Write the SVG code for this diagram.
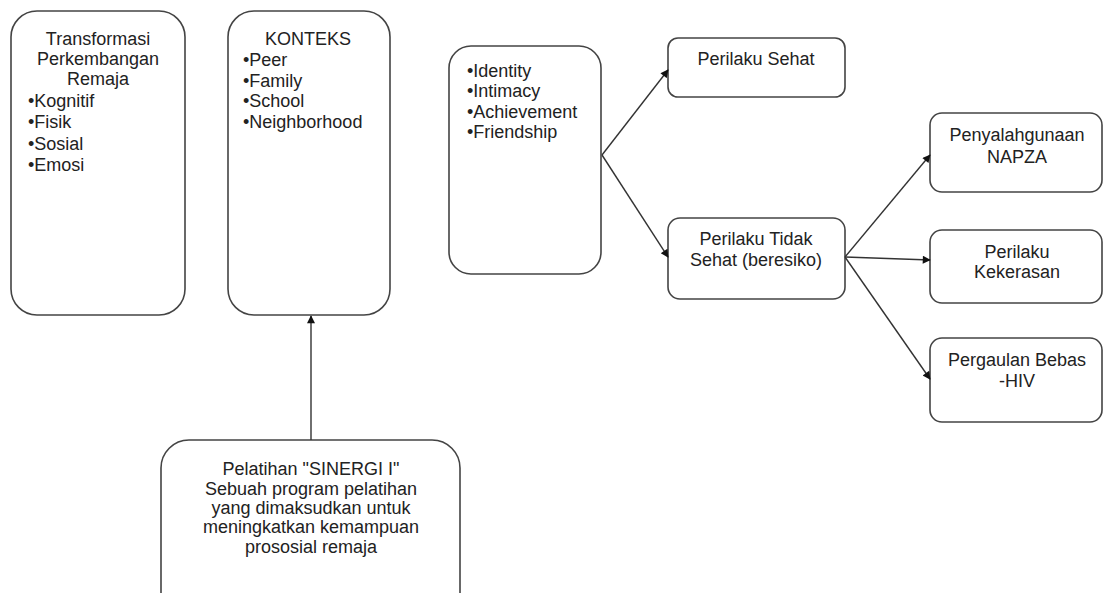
<svg xmlns="http://www.w3.org/2000/svg" width="1103" height="593" viewBox="0 0 1103 593">
<style>
.box{fill:#fff;stroke:#444;stroke-width:1.6}
.t{font-family:"Liberation Sans",Arial,sans-serif;font-size:18px;fill:#222}
.c{text-anchor:middle}
.line{stroke:#333;stroke-width:1.4;fill:none}
</style>
<defs>
<marker id="arr" viewBox="0 0 10 10" refX="9" refY="5" markerWidth="10" markerHeight="8" markerUnits="userSpaceOnUse" orient="auto">
<path d="M0,0 L10,5 L0,10 z" fill="#111"/>
</marker>
</defs>
<rect width="1103" height="593" fill="#fff"/>
<g id="transformasi">
<rect class="box" x="11" y="11" width="174" height="304" rx="26"/>
<text class="t c" x="98" y="45">Transformasi</text>
<text class="t c" x="98" y="65">Perkembangan</text>
<text class="t c" x="98" y="85">Remaja</text>
<text class="t" x="28" y="107">•Kognitif</text>
<text class="t" x="28" y="128">•Fisik</text>
<text class="t" x="28" y="150">•Sosial</text>
<text class="t" x="28" y="171">•Emosi</text>
</g>
<g id="konteks">
<rect class="box" x="228" y="11" width="162" height="304" rx="26"/>
<text class="t c" x="308" y="45">KONTEKS</text>
<text class="t" x="243" y="66">•Peer</text>
<text class="t" x="243" y="87">•Family</text>
<text class="t" x="243" y="107">•School</text>
<text class="t" x="243" y="128">•Neighborhood</text>
</g>
<g id="identity">
<rect class="box" x="449" y="46" width="152" height="228" rx="22"/>
<text class="t" x="467" y="77">•Identity</text>
<text class="t" x="467" y="97">•Intimacy</text>
<text class="t" x="467" y="118">•Achievement</text>
<text class="t" x="467" y="138">•Friendship</text>
</g>
<g id="perilaku-sehat">
<rect class="box" x="668" y="38" width="177" height="59" rx="10"/>
<text class="t c" x="756" y="65">Perilaku Sehat</text>
</g>
<g id="perilaku-tidak-sehat">
<rect class="box" x="668" y="218" width="177" height="81" rx="12"/>
<text class="t c" x="756" y="245">Perilaku Tidak</text>
<text class="t c" x="756" y="266">Sehat (beresiko)</text>
</g>
<g id="napza">
<rect class="box" x="930" y="113" width="172" height="79" rx="12"/>
<text class="t c" x="1017" y="141">Penyalahgunaan</text>
<text class="t c" x="1017" y="163">NAPZA</text>
</g>
<g id="kekerasan">
<rect class="box" x="930" y="230" width="172" height="73" rx="12"/>
<text class="t c" x="1017" y="258">Perilaku</text>
<text class="t c" x="1017" y="278">Kekerasan</text>
</g>
<g id="pergaulan">
<rect class="box" x="930" y="338" width="172" height="84" rx="12"/>
<text class="t c" x="1017" y="366">Pergaulan Bebas</text>
<text class="t c" x="1017" y="387">-HIV</text>
</g>
<g id="sinergi">
<rect class="box" x="161" y="440" width="299" height="190" rx="28"/>
<text class="t c" x="311" y="475">Pelatihan "SINERGI I"</text>
<text class="t c" x="311" y="495">Sebuah program pelatihan</text>
<text class="t c" x="311" y="514">yang dimaksudkan untuk</text>
<text class="t c" x="311" y="533">meningkatkan kemampuan</text>
<text class="t c" x="311" y="553">prososial remaja</text>
</g>
<g id="connectors">
<line class="line" x1="311" y1="440" x2="311" y2="316" marker-end="url(#arr)"/>
<line class="line" x1="602" y1="155" x2="668" y2="70" marker-end="url(#arr)"/>
<line class="line" x1="602" y1="155" x2="668" y2="257" marker-end="url(#arr)"/>
<line class="line" x1="845" y1="257" x2="930" y2="155" marker-end="url(#arr)"/>
<line class="line" x1="845" y1="257" x2="930" y2="260" marker-end="url(#arr)"/>
<line class="line" x1="845" y1="257" x2="930" y2="379" marker-end="url(#arr)"/>
</g>
</svg>
